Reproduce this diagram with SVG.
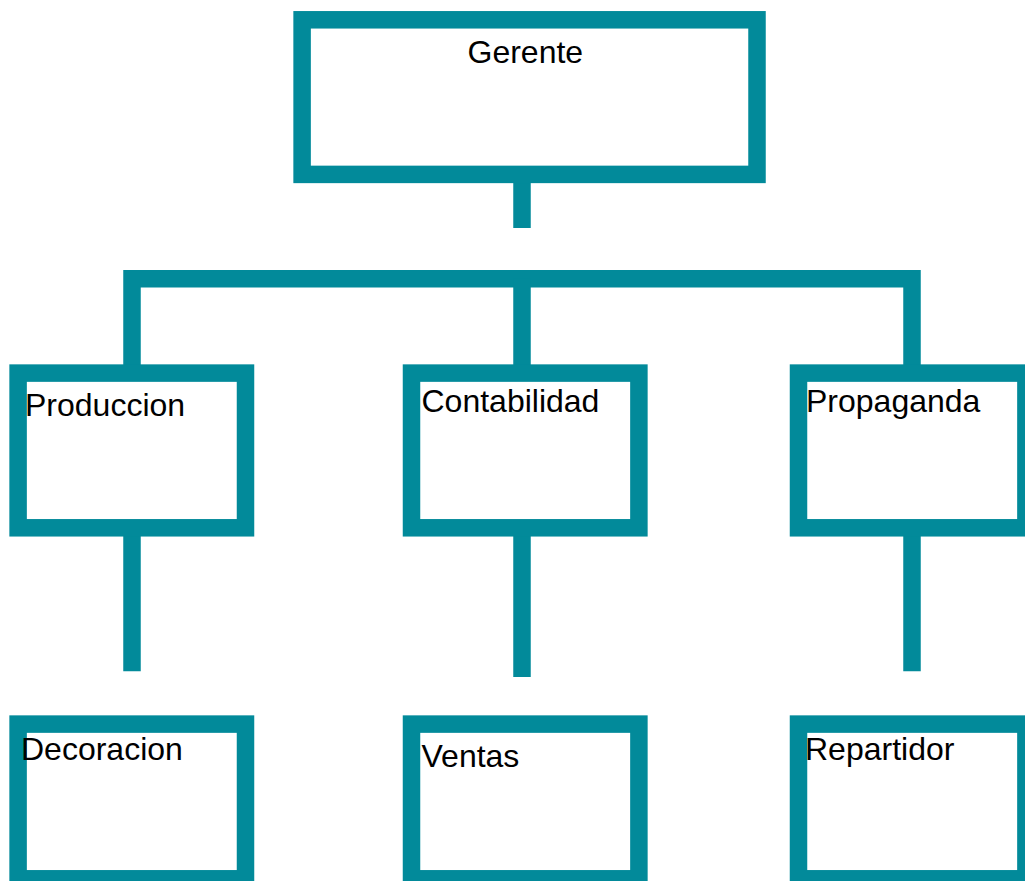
<svg xmlns="http://www.w3.org/2000/svg" width="1025" height="881" viewBox="0 0 1025 881">
<style>
.box{fill:#ffffff;stroke:#028a9a;stroke-width:17.5}
.ln{stroke:#028a9a;stroke-width:17.5;fill:none;stroke-linecap:butt;stroke-linejoin:miter}
.t{font-family:"Liberation Sans",Arial,sans-serif;font-size:32px;fill:#000}
</style>
<rect width="1025" height="881" fill="#ffffff"/>
<g id="connectors">
<line class="ln" x1="522" y1="183" x2="522" y2="228"/>
<polyline class="ln" points="132,365 132,278.7 912,278.7 912,365"/>
<line class="ln" x1="522" y1="278.7" x2="522" y2="365"/>
<line class="ln" x1="132" y1="536" x2="132" y2="671.3"/>
<line class="ln" x1="522" y1="536" x2="522" y2="677"/>
<line class="ln" x1="912" y1="536" x2="912" y2="671.3"/>
</g>
<g id="gerente"><rect class="box" x="302.1" y="19.8" width="454.9" height="154.6"/><text class="t" x="467.5" y="63.3">Gerente</text></g>
<g id="produccion"><rect class="box" x="18.1" y="373.1" width="227.4" height="154.7"/><text class="t" x="25" y="416">Produccion</text></g>
<g id="contabilidad"><rect class="box" x="411.5" y="373.1" width="227.4" height="154.7"/><text class="t" x="421.5" y="411.7">Contabilidad</text></g>
<g id="propaganda"><rect class="box" x="798.5" y="373.1" width="227.4" height="154.7"/><text class="t" x="806" y="411.7">Propaganda</text></g>
<g id="decoracion"><rect class="box" x="18.1" y="724.1" width="227.4" height="154.7"/><text class="t" x="21" y="760">Decoracion</text></g>
<g id="ventas"><rect class="box" x="411.5" y="724.1" width="227.4" height="154.7"/><text class="t" x="421.5" y="767.3">Ventas</text></g>
<g id="repartidor"><rect class="box" x="798.5" y="724.1" width="227.4" height="154.7"/><text class="t" x="805" y="760">Repartidor</text></g>
</svg>
